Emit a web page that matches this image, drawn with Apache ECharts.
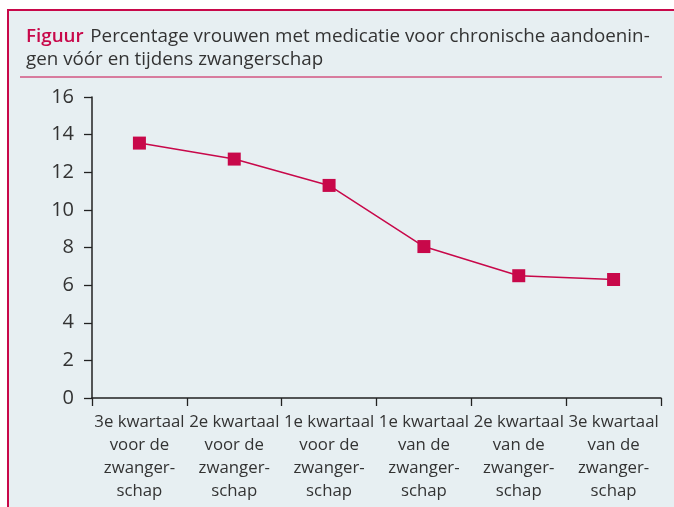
<!DOCTYPE html>
<html><head><meta charset="utf-8">
<script src="https://cdn.jsdelivr.net/npm/echarts@6/dist/echarts.min.js"></script>
<style>html,body{margin:0;padding:0;background:#fff}#c{width:674px;height:507px}</style>
</head><body><div id="c"></div>
<script>
var categories = [
  "3e kwartaal\nvoor de\nzwanger-\nschap",
  "2e kwartaal\nvoor de\nzwanger-\nschap",
  "1e kwartaal\nvoor de\nzwanger-\nschap",
  "1e kwartaal\nvan de\nzwanger-\nschap",
  "2e kwartaal\nvan de\nzwanger-\nschap",
  "3e kwartaal\nvan de\nzwanger-\nschap"
];
var values = [13.55, 12.7, 11.3, 8.05, 6.5, 6.3];
var titleLabel = "Figuur";
var titleLine1 = "Percentage vrouwen met medicatie voor chronische aandoenin-";
var titleLine2 = "gen vóór en tijdens zwangerschap";

var crimson = "#c8084a";
var font = "Open Sans";
var chart = echarts.init(document.getElementById('c'));
chart.setOption({
  backgroundColor: "#fff",
  animation: false,
  graphic: [
    {type: 'rect', shape: {x: 8, y: 10, width: 670, height: 500}, style: {fill: '#e7eff2'}, z: -10},
    {type: 'line', shape: {x1: 7, y1: 10, x2: 674, y2: 10}, style: {stroke: crimson, lineWidth: 2}},
    {type: 'line', shape: {x1: 8, y1: 9, x2: 8, y2: 507}, style: {stroke: crimson, lineWidth: 2}},
    {type: 'line', shape: {x1: 20, y1: 77, x2: 662, y2: 77}, style: {stroke: crimson, lineWidth: 1}},
    {type: 'text', left: 26, top: 27, style: {
      text: '{a|' + titleLabel + '}  {b|' + titleLine1 + '}\n{b|' + titleLine2 + '}',
      rich: {
        a: {fill: crimson, fontFamily: font, fontSize: 18.8, fontWeight: 600, lineHeight: 23},
        b: {fill: '#333', fontFamily: font, fontSize: 18.8, lineHeight: 23}
      }
    }}
  ],
  grid: {left: 92, right: 13, top: 97, bottom: 109, containLabel: false},
  xAxis: {
    type: 'category', data: categories, boundaryGap: true,
    axisLine: {lineStyle: {color: '#222', width: 1.5}},
    axisTick: {show: true, length: 8, lineStyle: {color: '#222', width: 1.3}},
    axisLabel: {interval: 0, color: '#333', fontFamily: font, fontSize: 16.8, lineHeight: 23, margin: 13}
  },
  yAxis: {
    type: 'value', min: 0, max: 16, interval: 2,
    splitLine: {show: false},
    axisLine: {show: true, lineStyle: {color: '#222', width: 1.5}},
    axisTick: {show: true, length: 8, lineStyle: {color: '#222', width: 1.3}},
    axisLabel: {color: '#333', fontFamily: font, fontSize: 20, margin: 18}
  },
  series: [{
    type: 'line', data: values, symbol: 'rect', symbolSize: 13,
    lineStyle: {color: crimson, width: 1.5},
    itemStyle: {color: crimson}
  }]
});
</script></body></html>
